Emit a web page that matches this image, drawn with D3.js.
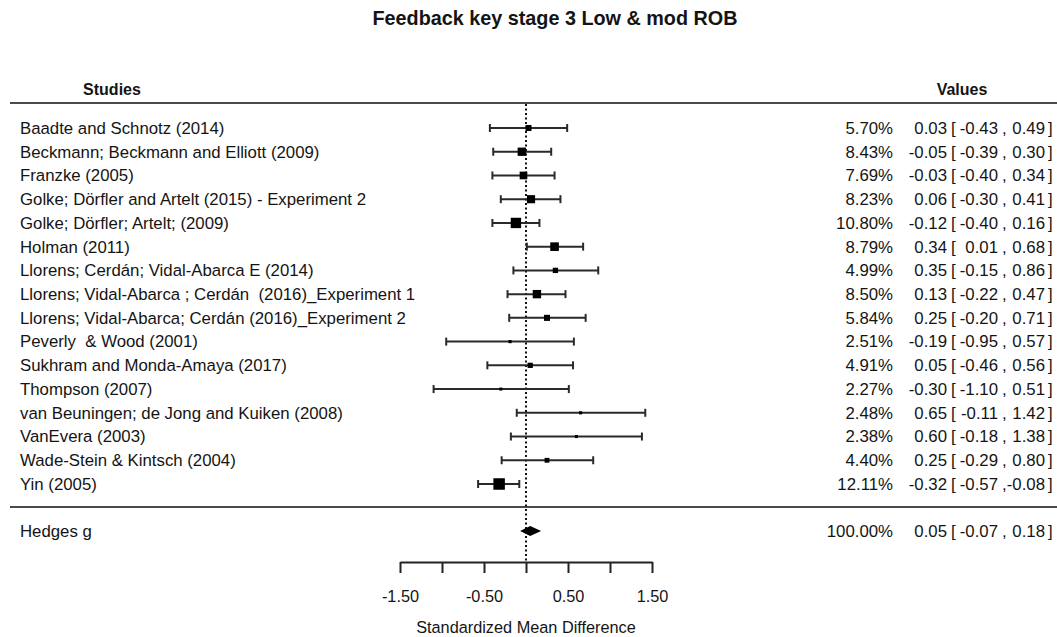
<!DOCTYPE html>
<html>
<head>
<meta charset="utf-8">
<script src="https://cdn.jsdelivr.net/npm/d3@7"></script>
<style>
  body { margin: 0; background: #fff; }
  svg text { font-family: "Liberation Sans", Arial, sans-serif; fill: #141414; }
</style>
</head>
<body>
<div id="chart"></div>
<script>
// forest plot - feedback KS3, low & moderate risk of bias

var studies = [
    "Baadte and Schnotz (2014)",
    "Beckmann; Beckmann and Elliott (2009)",
    "Franzke (2005)",
    "Golke; Dörfler and Artelt (2015) - Experiment 2",
    "Golke; Dörfler; Artelt; (2009)",
    "Holman (2011)",
    "Llorens; Cerdán; Vidal-Abarca E (2014)",
    "Llorens; Vidal-Abarca ; Cerdán  (2016)_Experiment 1",
    "Llorens; Vidal-Abarca; Cerdán (2016)_Experiment 2",
    "Peverly  & Wood (2001)",
    "Sukhram and Monda-Amaya (2017)",
    "Thompson (2007)",
    "van Beuningen; de Jong and Kuiken (2008)",
    "VanEvera (2003)",
    "Wade-Stein & Kintsch (2004)",
    "Yin (2005)"
];
var weights = [5.70, 8.43, 7.69, 8.23, 10.80, 8.79, 4.99, 8.50, 5.84, 2.51, 4.91, 2.27, 2.48, 2.38, 4.40, 12.11];
var estimates = [0.03, -0.05, -0.03, 0.06, -0.12, 0.34, 0.35, 0.13, 0.25, -0.19, 0.05, -0.30, 0.65, 0.60, 0.25, -0.32];
var lowers = [-0.43, -0.39, -0.40, -0.30, -0.40, 0.01, -0.15, -0.22, -0.20, -0.95, -0.46, -1.10, -0.11, -0.18, -0.29, -0.57];
var uppers = [0.49, 0.30, 0.34, 0.41, 0.16, 0.68, 0.86, 0.47, 0.71, 0.57, 0.56, 0.51, 1.42, 1.38, 0.80, -0.08];

var pooledLabel = "Hedges g";
var pooled = { weight: 100.00, est: 0.05, lo: -0.07, hi: 0.18 };

var axisTicks = [-1.5, -1.0, -0.5, 0, 0.5, 1.0, 1.5];
var axisLabels = [-1.5, -0.5, 0.5, 1.5];

var rows = studies.map(function (s, i) {
    return { name: s, w: weights[i], est: estimates[i], lo: lowers[i], hi: uppers[i] };
});

var width = 1057, height = 637;

var svg = d3.select("#chart").append("svg")
    .attr("width", width)
    .attr("height", height);

var x = d3.scaleLinear().domain([-1.5, 1.5]).range([400, 652]);
var y = d3.scalePoint().domain(studies).range([128, 484]);
var size = d3.scaleLinear().domain([0, 12.11]).range([1, 11.5]);
// plain hyphen minus like the original output
var f2 = d3.formatLocale({ decimal: ".", thousands: ",", grouping: [3], currency: ["", ""], minus: "-" }).format(".2f");

// title + headers
svg.append("text")
    .attr("x", 555).attr("y", 18).attr("dy", "0.35em")
    .attr("text-anchor", "middle")
    .style("font-size", "19.8px").style("font-weight", "bold")
    .text("Feedback key stage 3 Low & mod ROB");

svg.append("text").attr("x", 112).attr("y", 89).attr("dy", "0.35em")
    .attr("text-anchor", "middle")
    .style("font-size", "16px").style("font-weight", "bold")
    .text("Studies");

svg.append("text").attr("x", 962).attr("y", 89).attr("dy", "0.35em")
    .attr("text-anchor", "middle")
    .style("font-size", "16px").style("font-weight", "bold")
    .text("Values");

// horizontal rules
svg.append("line").attr("x1", 10).attr("x2", width).attr("y1", 103).attr("y2", 103)
    .style("stroke", "#4a4a4a").style("stroke-width", 2);
svg.append("line").attr("x1", 10).attr("x2", width).attr("y1", 507).attr("y2", 507)
    .style("stroke", "#4a4a4a").style("stroke-width", 2);

// zero line
svg.append("line")
    .attr("x1", x(0)).attr("x2", x(0)).attr("y1", 104).attr("y2", 562)
    .style("stroke", "#111").style("stroke-width", 2)
    .style("stroke-dasharray", "2,2.5");

// study rows
var g = svg.append("g");

var row = g.selectAll("g.row").data(rows).enter().append("g").attr("class", "row")
    .attr("transform", function (d) { return "translate(0," + y(d.name) + ")"; });

row.append("text").attr("x", 20).attr("dy", "0.35em")
    .style("font-size", "16.8px").style("white-space", "pre")
    .text(function (d) { return d.name; });

row.append("line")
    .attr("x1", function (d) { return x(d.lo); })
    .attr("x2", function (d) { return x(d.hi); })
    .style("stroke", "#2a2a2a").style("stroke-width", 2);

row.append("line")
    .attr("x1", function (d) { return x(d.lo); }).attr("x2", function (d) { return x(d.lo); })
    .attr("y1", -4).attr("y2", 4)
    .style("stroke", "#2a2a2a").style("stroke-width", 2);
row.append("line")
    .attr("x1", function (d) { return x(d.hi); }).attr("x2", function (d) { return x(d.hi); })
    .attr("y1", -4).attr("y2", 4)
    .style("stroke", "#2a2a2a").style("stroke-width", 2);

row.append("rect")
    .attr("x", function (d) { return x(d.est) - size(d.w) / 2; })
    .attr("y", function (d) { return -size(d.w) / 2; })
    .attr("width", function (d) { return size(d.w); })
    .attr("height", function (d) { return size(d.w); })
    .attr("fill", "#000");

function valueCols(sel) {
    sel.append("text").attr("x", 893).attr("dy", "0.35em").attr("text-anchor", "end")
        .style("font-size", "16.8px").text(function (d) { return f2(d.w) + "%"; });
    sel.append("text").attr("x", 947).attr("dy", "0.35em").attr("text-anchor", "end")
        .style("font-size", "16.8px").text(function (d) { return f2(d.est); });
    sel.append("text").attr("x", 951).attr("dy", "0.35em")
        .style("font-size", "16.8px").text("[");
    sel.append("text").attr("x", 998).attr("dy", "0.35em").attr("text-anchor", "end")
        .style("font-size", "16.8px").text(function (d) { return f2(d.lo); });
    sel.append("text").attr("x", 1002).attr("dy", "0.35em")
        .style("font-size", "16.8px").text(",");
    sel.append("text").attr("x", 1045).attr("dy", "0.35em").attr("text-anchor", "end")
        .style("font-size", "16.8px").text(function (d) { return f2(d.hi); });
    sel.append("text").attr("x", 1048).attr("dy", "0.35em")
        .style("font-size", "16.8px").text("]");
}
valueCols(row);

// pooled estimate
var pg = svg.append("g").attr("transform", "translate(0,531)")
    .datum({ name: pooledLabel, w: pooled.weight, est: pooled.est, lo: pooled.lo, hi: pooled.hi });

pg.append("text").attr("x", 20).attr("dy", "0.35em")
    .style("font-size", "16.8px").text(function (d) { return d.name; });

pg.append("path")
    .attr("d", function (d) {
        return "M" + x(d.lo) + ",0L" + x(d.est) + ",-5L" + x(d.hi) + ",0L" + x(d.est) + ",5Z";
    })
    .attr("fill", "#000");

valueCols(pg);

// x axis
var axis = d3.axisBottom(x)
    .tickValues(axisTicks)
    .tickSize(11)
    .tickSizeOuter(0)
    .tickFormat(function (d) { return axisLabels.indexOf(d) >= 0 ? f2(d) : ""; });

var ax = svg.append("g").attr("transform", "translate(0,562)").call(axis);
ax.select(".domain").style("stroke", "#222").style("stroke-width", 2);
ax.selectAll(".tick line").style("stroke", "#222").style("stroke-width", 2);
ax.selectAll(".tick text")
    .attr("y", 34).attr("dy", "0.35em")
    .style("font-size", "16.3px").style("font-family", "'Liberation Sans', Arial, sans-serif")
    .attr("fill", "#141414");

svg.append("text")
    .attr("x", x(0)).attr("y", 627).attr("dy", "0.35em")
    .attr("text-anchor", "middle")
    .style("font-size", "16.3px")
    .text("Standardized Mean Difference");
</script>
</body>
</html>
